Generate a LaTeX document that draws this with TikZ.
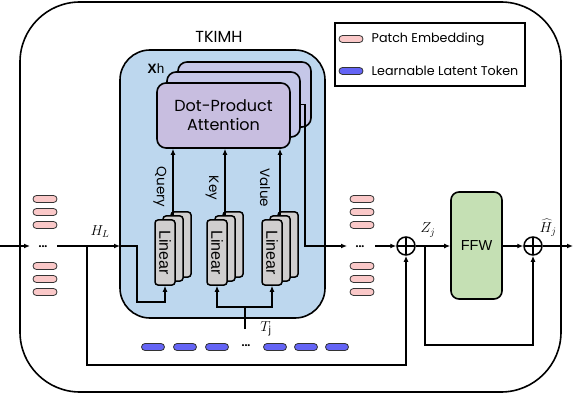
\documentclass[tikz,border=0pt]{standalone}
\usepackage{fontspec}
\setmainfont{Poppins}
\newfontfamily\arialf{Liberation Sans}
\usetikzlibrary{arrows.meta,calc}
\definecolor{tkblue}{RGB}{189,215,238}
\definecolor{attfront}{RGB}{200,190,224}
\definecolor{attback}{RGB}{197,199,232}
\definecolor{lingray}{RGB}{208,206,206}
\definecolor{ffwgreen}{RGB}{197,224,180}
\definecolor{embpink}{RGB}{250,200,200}
\definecolor{tokblue}{RGB}{100,100,245}
\begin{document}
\begin{tikzpicture}[x=1pt,y=-1pt, line width=1.4pt,
  arr/.style={-{Latex[length=6pt,width=5pt]}},
  emb/.style={draw=black!80, line width=0.8pt, fill=embpink, rounded corners=3.5pt, minimum width=24pt, minimum height=7pt, inner sep=0pt},
  tok/.style={draw=black!80, line width=0.8pt, fill=tokblue, rounded corners=3.5pt, minimum width=23pt, minimum height=7pt, inner sep=0pt},
  attbox/.style={draw, line width=1.6pt, rounded corners=9pt, minimum width=133pt, minimum height=65pt, inner sep=0pt},
  linbox/.style={draw, line width=1.5pt, fill=lingray, rounded corners=3pt, minimum width=20pt, minimum height=65pt, inner sep=0pt},
  plus/.style={draw, circle, line width=1.5pt, minimum size=18pt, inner sep=0pt,
    path picture={\draw[line width=1.5pt] (path picture bounding box.north) -- (path picture bounding box.south) (path picture bounding box.west) -- (path picture bounding box.east);}},
  dotsn/.style={font=\bfseries\fontsize{10.5}{10}\selectfont, inner sep=1pt},
  qkv/.style={rotate=-90, font=\fontsize{13.5}{14}\selectfont, inner sep=0pt},
  lintext/.style={rotate=-90, font=\arialf\fontsize{16}{16}\selectfont, inner sep=0pt},
  mathlbl/.style={font=\fontsize{14}{14}\selectfont, inner sep=0pt},
  legtext/.style={anchor=west, font=\fontsize{12.7}{14}\selectfont, inner sep=0pt}
]
\useasboundingbox (0,0) rectangle (573,398);

% outer frame
\draw[line width=1.6pt, rounded corners=60pt] (20,2) rectangle (561,392);

% TKIMH block
\node[font=\fontsize{16}{16}\selectfont] (tktitle) at (219,37) {TKIMH};
\node[draw, line width=1.6pt, fill=tkblue, rounded corners=30pt, minimum width=205pt, minimum height=268pt, inner sep=0pt] (tk) at (222.5,184) {};

% attention stack
\node[attbox, fill=attback] (att3) at (244.5,94.5) {};
\node[attbox, fill=attback] (att2) at (233.5,104.5) {};
\node[attbox, fill=attfront, align=center, font=\fontsize{16}{19}\selectfont] (att1) at (223.5,115.5) {Dot-Product\\Attention};
\node[font=\arialf\fontsize{13.5}{13}\selectfont, inner sep=0pt] (xh) at (156,69) {{\bfseries X}h};

% linear stacks
\foreach \n/\x in {q/165, k/217, v/272}{
  \node[linbox] (\n3) at (\x+16,244.5) {};
  \node[linbox] (\n2) at (\x+8,248.5) {};
  \node[linbox] (\n1) at (\x,252.5) {};
  \node[lintext] at (\n1) {Linear};
}

% query / key / value
\draw[arr] (q2.north) -- (q2.north |- att1.south);
\draw[arr] (k2.north) -- (k2.north |- att1.south);
\draw[arr] (v2.north) -- (v2.north |- att1.south);
\node[qkv] (ql) at (160,187) {Query};
\node[qkv] (kl) at (212,188) {Key};
\node[qkv] (vl) at (265,188) {Value};

% left patch embeddings
\foreach \y [count=\i] in {199,212,225,266,279,292}{
  \node[emb] (pl\i) at (45,\y) {};
}
\node[dotsn] (dotsL) at (43,246.5) {...};
\coordinate (in) at (0,246);
\draw[arr] (in) -- (30,246);

% H_L path
\coordinate (hb) at (87,246);
\coordinate (hq) at (137,246);
\draw[arr] (57,246) -- (120,246);
\draw[arr] (120,246) -- (hq) -- (hq |- 0,302) -| (q1.south);
\node[mathlbl] (hl) at (100,232) {$H_L$};

% right patch embeddings
\foreach \y [count=\i] in {199,212,225,266,279,292}{
  \node[emb] (pr\i) at (362,\y) {};
}
\node[dotsn] (dotsR) at (360,246.5) {...};

% attention output
\coordinate (ao) at (305,104.5);
\draw[arr] (att2.east) -- (ao) -- (ao |- 0,246) -- (347,246);

% plus 1, FFW, plus 2
\node[plus] (p1) at (406,246) {};
\node[draw, line width=1.6pt, fill=ffwgreen, rounded corners=8pt, minimum width=51pt, minimum height=107pt, inner sep=0pt, font=\arialf\fontsize{14.5}{15}\selectfont] (ffw) at (476.5,245.5) {FFW};
\node[plus] (p2) at (533,246) {};
\draw[arr] (375,246) -- (p1.west);
\draw[arr] (p1.east) -- (ffw.west |- p1);
\draw[arr] (ffw.east |- p2) -- (p2.west);
\coordinate (out) at (573,246);
\draw[arr] (p2.east) -- (out);
\node[mathlbl] (zj) at (428,230) {$Z_j$};
\node[mathlbl] (hj) at (548,228) {$\widehat{H}_j$};

% residual from Z_j
\coordinate (zb) at (425,246);
\draw[arr] (zb) -- (zb |- 0,345) -| (p2.south);

% residual from H_L
\draw[arr] (hb) -- (hb |- 0,365) -| (p1.south);

% latent tokens
\foreach \x [count=\i] in {153,185,217,275,306,337}{
  \node[tok] (t\i) at (\x,347) {};
}
\node[dotsn] (dotsT) at (246,346) {...};
\coordinate (tj) at (245,329);
\coordinate (tjm) at (245,307);
\draw (tj) -- (tjm);
\draw[arr] (tjm) -| (k1.south);
\draw[arr] (tjm) -| (v1.south);
\node[mathlbl] (tjl) at (266,329) {$T_{\mathrm{j}}$};

% legend
\draw[line width=1.6pt] (335,23) rectangle (525,86);
\node[emb] (lemb) at (351,39) {};
\node[tok, minimum width=24pt] (ltok) at (351,71) {};
\node[legtext] (ltxt1) at (371,39) {Patch Embedding};
\node[legtext] (ltxt2) at (371,71) {Learnable Latent Token};
\end{tikzpicture}
\end{document}
